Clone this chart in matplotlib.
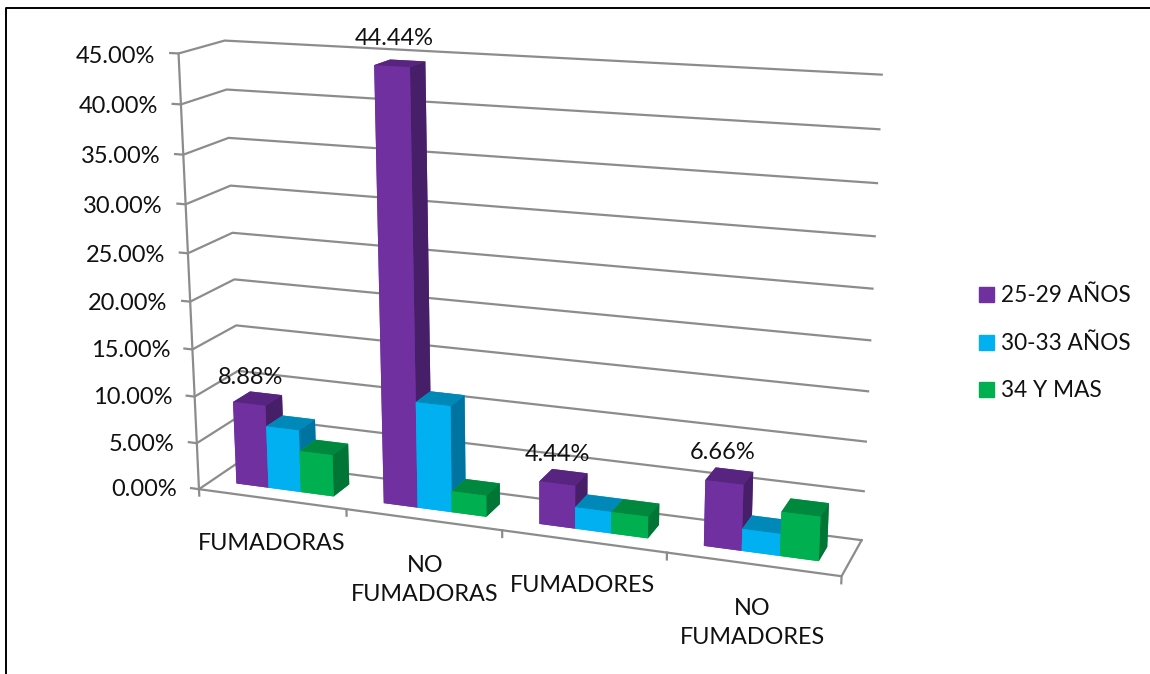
import matplotlib
matplotlib.use('Agg')
import matplotlib.pyplot as plt
from matplotlib.lines import Line2D
from mpl_toolkits.mplot3d import proj3d

plt.rcParams['font.family'] = ['Lato', 'DejaVu Sans']

categories = ['FUMADORAS', 'NO\nFUMADORAS', 'FUMADORES', 'NO\nFUMADORES']
series_names = ['25-29 AÑOS', '30-33 AÑOS', '34 Y MAS']
age_25_29 = [8.88, 44.44, 4.44, 6.66]
age_30_33 = [6.66, 11.11, 2.22, 2.22]
age_34_up = [4.44, 2.22, 2.22, 4.44]
series_values = [age_25_29, age_30_33, age_34_up]
z_ticks = [0, 5, 10, 15, 20, 25, 30, 35, 40, 45]

# front, top and side colour of each series
front_colors = ['#7030A0', '#00B0F0', '#00B050']
top_colors = ['#572580', '#0088B9', '#00893E']
side_colors = ['#471F68', '#0074A0', '#007535']
grid_color = '#8C8C8C'
text_color = '#111111'

W, H = 1150, 674
fig = plt.figure(figsize=(W / 100, H / 100), dpi=100)

# camera settings for the tilted box
s = 379.534
ax = fig.add_axes([323.222 / W, 183.689 / H, s / W, s / H], projection='3d',
                  computed_zorder=False)
ax.set_xlim(0, 4, view_margin=0)
ax.set_ylim(0, 1, view_margin=0)
ax.set_zlim(0, 45, view_margin=0)
ax.set_proj_type('persp', focal_length=1)
ax.view_init(15.1527, -69.5468, 0.2046)
ax.set_box_aspect((4, 0.56089, 2.69703), zoom=2.14614)
ax.set_axis_off()


def line3d(xs, ys, zs):
    ax.plot(xs, ys, zs, color=grid_color, lw=1.6, clip_on=False, zorder=1)


def label3d(x, y, z, text, **kwargs):
    # flat text anchored at a projected box position
    px, py, _ = proj3d.proj_transform(x, y, z, ax.get_proj())
    ax.text2D(px, py, text, transform=ax.transData, fontsize=17, color=text_color,
              clip_on=False, zorder=50, **kwargs)


# walls, floor and ticks
for z in z_ticks:
    line3d([-0.055, 0, 0, 4], [0, 0, 1, 1], [z, z, z, z])
line3d([0, 0], [0, 0], [0, 45])
line3d([0, 4, 4], [0, 0, 1], [0, 0, 0])
for i in range(5):
    line3d([i, i], [0, 0], [0, -0.7])

bar_w = 0.222
margin = 0.17
y_front, bar_d = 0.3, 0.4
zo = 2
for c in range(len(categories)):
    for k, values in enumerate(series_values):
        x = c + margin + k * bar_w
        faces = [front_colors[k], top_colors[k], front_colors[k],
                 front_colors[k], front_colors[k], side_colors[k]]
        bar = ax.bar3d(x, y_front, 0, bar_w, bar_d, values[c], color=faces,
                       shade=False, zorder=zo)
        bar.set_clip_on(False)
        zo += 1

# value labels for the first series
label_nudge_x = [-0.105, -0.085, -0.08, -0.07]
label_lift = [0.4, 1.05, 0.5, 0.5]
for c, v in enumerate(age_25_29):
    label3d(c + margin + bar_w * 0.5 + label_nudge_x[c], y_front + bar_d,
            v + label_lift[c], '%.2f%%' % v, ha='center', va='bottom')

for z in z_ticks:
    label3d(-0.155, 0, z - 0.4, '%.2f%%' % z, ha='right', va='center')

# staggered category labels
label_pos = [(272, 544), (425, 580), (583, 585), (752, 623)]
for name, (px, py) in zip(categories, label_pos):
    fig.text(px / W, 1 - py / H, name, ha='center', va='center', fontsize=16.8,
             color=text_color, linespacing=1.44)

handles = [Line2D([], [], ls='none', marker='s', ms=10.8, color=c) for c in front_colors]
fig.legend(handles, series_names, loc='center left', frameon=False, fontsize=16.3,
           bbox_to_anchor=(948 / W, 1 - 343 / H), labelspacing=1.165,
           handletextpad=-0.165, handlelength=1.6, labelcolor=text_color)

# chart frame, open at the right and bottom
fig.add_artist(Line2D([5.5 / W, 5.5 / W, 1], [0, 1 - 7.5 / H, 1 - 7.5 / H],
                      color='black', lw=1.4))

fig.savefig('out.png', dpi=100)
